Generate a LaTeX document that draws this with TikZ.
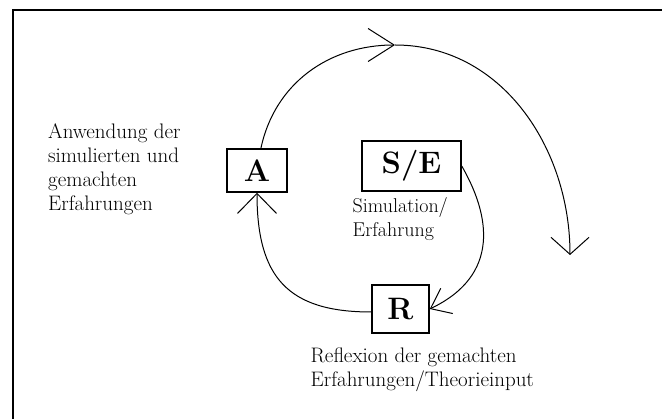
\documentclass[tikz,border=0pt]{standalone}
\usetikzlibrary{arrows.meta}
\tikzset{
  box/.style={draw, line width=1.5pt, inner sep=0pt, font=\fontsize{31}{31}\selectfont\bfseries},
  lbl/.style={anchor=north west, inner sep=0pt, align=left, font=\fontsize{21}{24}\selectfont},
  flow/.style={line width=1pt},
}
\begin{document}
\begin{tikzpicture}[x=1pt,y=-1pt]
\useasboundingbox (0,0) rectangle (662,419);
\draw[line width=2pt] (12.5,419) -- (12.5,10.5) -- (662,10.5);
\node[box, minimum width=60pt, minimum height=43pt] (A) at (257,170.5) {A};
\node[box, minimum width=99pt, minimum height=50pt] (SE) at (411.5,166) {S/E};
\node[box, minimum width=57pt, minimum height=48pt] (R) at (400.5,309) {R};
\node[lbl] (anw) at (48,123.1) {Anwendung der\\simulierten und\\gemachten\\Erfahrungen};
\node[lbl, font=\fontsize{20}{24}\selectfont] (sim) at (352.5,197.3) {Simulation/\\Erfahrung};
\node[lbl] (refl) at (310.5,347.7) {Reflexion der gemachten\\Erfahrungen/Theorieinput};
\coordinate (top) at (395,45);
\coordinate (end) at (570,255);
\draw[flow, -{Straight Barb[length=26pt,width=33pt]}] (A.80) to[out=78,in=180] (top);
\draw[flow, -{Straight Barb[length=17pt,width=38pt]}] (top) to[out=0,in=90] (end);
\draw[flow, -{Straight Barb[length=18pt,width=28pt]}] (SE.east) .. controls (490,215) and (501,275) .. (R.east);
\draw[flow, -{Straight Barb[length=20pt,width=39pt]}] ([yshift=-3pt]R.west) to[out=180,in=-90,looseness=1.3] (A.south);
\end{tikzpicture}
\end{document}
